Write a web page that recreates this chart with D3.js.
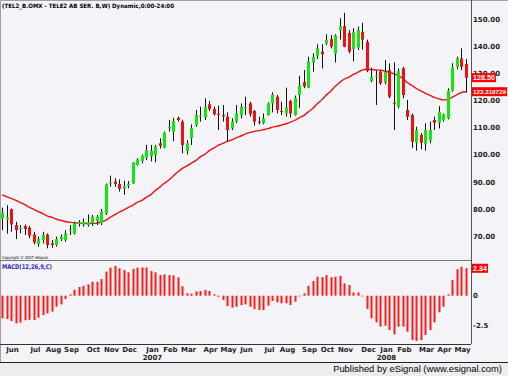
<!DOCTYPE html>
<html>
<head>
<meta charset="utf-8">
<script src="https://cdn.jsdelivr.net/npm/d3@7"></script>
<style>
  body { margin: 0; background: #f4f3f7; }
  svg { display: block; }
</style>
</head>
<body>
<div id="chart"></div>
<script>
// weekly bars, dated by the Friday of each week
const firstWeek = new Date(2006, 4, 19);
const lastWeek = new Date(2008, 4, 9);

const opens = [76.6, 76.2, 80.0, 74.2, 72.8, 73.8, 73.2, 70.7, 67.1, 68.7,
  70.7, 67.5, 66.8, 69.0, 68.7, 72.3, 71.1, 74.5, 74.4, 74.2,
  74.8, 75.7, 74.8, 78.5, 89.5, 90.2, 89.3, 87.7, 88.6, 89.5,
  96.3, 97.8, 99.0, 99.5, 100.0, 104.3, 102.7, 109.8, 108.6, 113.7,
  112.3, 101.5, 106.1, 111.0, 114.3, 113.8, 118.7, 116.9, 115.2, 114.8,
  114.1, 109.8, 112.3, 114.7, 117.3, 119.0, 116.2, 112.3, 111.7, 114.7,
  119.0, 121.5, 116.2, 115.3, 119.9, 114.7, 122.1, 126.8, 124.8, 134.1,
  136.6, 138.1, 141.1, 142.7, 137.3, 145.9, 147.5, 145.0, 139.1, 139.6,
  145.4, 141.7, 127.2, 129.0, 130.7, 126.8, 131.3, 119.3, 117.8, 131.9,
  116.6, 114.7, 104.5, 107.4, 104.0, 105.3, 112.9, 111.9, 112.9, 113.5,
  123.7, 132.5, 135.6, 133.5];
const highs = [80.6, 81.5, 80.3, 75.4, 74.2, 74.4, 73.8, 71.7, 69.9, 71.7,
  71.1, 68.7, 69.9, 70.7, 72.3, 74.2, 75.4, 76.0, 76.6, 78.1,
  77.9, 77.9, 80.1, 89.5, 92.4, 91.4, 91.0, 90.5, 90.4, 97.3,
  98.8, 100.2, 103.7, 103.7, 103.7, 106.1, 108.6, 112.9, 113.7, 114.1,
  113.0, 105.5, 111.3, 116.6, 117.8, 120.9, 119.9, 117.8, 118.2, 118.4,
  115.7, 113.5, 118.4, 119.0, 121.5, 119.6, 116.6, 114.1, 115.3, 119.4,
  123.1, 122.1, 119.6, 124.8, 120.3, 121.9, 129.2, 131.3, 136.2, 137.5,
  140.8, 140.8, 144.5, 144.2, 144.5, 150.4, 152.4, 146.0, 146.7, 147.3,
  148.7, 142.5, 132.2, 131.0, 131.3, 135.0, 133.8, 134.1, 131.9, 132.5,
  120.3, 115.3, 110.4, 108.0, 111.7, 112.3, 114.1, 118.0, 115.3, 124.6,
  133.8, 136.2, 139.3, 135.4];
const lows = [72.3, 71.0, 71.7, 69.0, 71.1, 70.5, 69.3, 67.1, 66.2, 67.4,
  65.6, 65.8, 66.2, 68.3, 68.0, 70.5, 70.7, 73.6, 73.6, 73.6,
  73.9, 74.2, 74.2, 77.9, 88.3, 88.3, 86.5, 85.3, 87.7, 89.4,
  96.1, 96.9, 98.1, 97.6, 97.3, 102.4, 102.5, 108.6, 105.1, 112.3,
  100.6, 100.2, 103.7, 110.4, 112.3, 112.9, 116.2, 114.5, 109.2, 112.3,
  104.9, 109.2, 111.7, 113.5, 114.7, 114.1, 110.8, 111.3, 111.3, 114.5,
  115.7, 115.3, 114.7, 114.1, 113.8, 114.5, 117.4, 124.6, 124.6, 130.7,
  135.4, 131.9, 140.5, 139.3, 134.1, 142.5, 139.7, 137.5, 134.5, 138.7,
  138.8, 130.5, 126.8, 118.4, 125.8, 126.0, 120.9, 109.2, 117.2, 120.9,
  112.9, 102.5, 101.6, 102.1, 101.6, 104.3, 109.2, 109.8, 112.3, 113.1,
  123.3, 131.6, 131.3, 123.0];
const closes = [78.7, 77.0, 74.4, 72.3, 73.1, 72.7, 70.3, 67.8, 69.0, 70.5,
  66.8, 66.9, 69.0, 69.9, 71.1, 72.7, 74.8, 75.2, 75.4, 75.2,
  77.3, 77.3, 79.1, 89.2, 89.9, 89.3, 87.5, 88.5, 89.4, 97.2,
  98.4, 99.7, 101.8, 101.5, 103.1, 103.4, 108.3, 110.3, 112.5, 112.9,
  103.7, 104.3, 110.0, 114.7, 114.5, 117.8, 116.9, 115.0, 114.8, 114.3,
  109.2, 112.3, 115.3, 117.8, 117.6, 115.0, 112.3, 112.0, 113.5, 119.0,
  122.3, 116.6, 115.9, 117.4, 115.3, 121.1, 125.8, 125.2, 134.4, 136.2,
  139.3, 137.1, 142.4, 139.9, 144.1, 147.4, 139.9, 138.1, 145.2, 146.1,
  142.5, 131.0, 128.8, 129.3, 126.4, 130.5, 121.5, 118.9, 130.9, 122.1,
  114.1, 104.9, 109.2, 104.5, 109.2, 109.2, 111.9, 115.9, 114.9, 123.7,
  132.3, 135.6, 132.5, 128.5];

// moving average (red line), read per bar
const movingAvg = [85.3, 84.6, 84.0, 83.3, 82.5, 81.7, 80.8, 80.0, 79.2, 78.4,
  77.6, 77.0, 76.4, 75.9, 75.5, 75.2, 75.0, 74.9, 74.8, 74.8,
  74.8, 74.9, 75.3, 76.0, 77.0, 78.0, 78.9, 79.8, 80.6, 81.5,
  82.5, 83.3, 84.3, 85.5, 86.8, 88.2, 89.5, 90.8, 92.2, 93.8,
  95.0, 96.0, 96.9, 98.0, 99.2, 100.3, 101.5, 102.6, 103.5, 104.3,
  105.0, 105.6, 106.3, 107.0, 107.7, 108.3, 108.7, 109.0, 109.3, 109.7,
  110.2, 110.6, 111.0, 111.5, 112.0, 112.8, 113.7, 114.6, 115.8, 117.2,
  118.8, 120.4, 122.0, 123.6, 125.2, 126.8, 127.9, 128.7, 129.6, 130.5,
  131.3, 131.6, 131.5, 131.3, 131.2, 130.9, 130.5, 129.9, 129.2, 128.1,
  126.8, 125.6, 124.6, 123.6, 122.8, 122.0, 121.3, 120.7, 120.3, 120.5,
  121.2, 122.2, 123.0, 123.319729];

// MACD(12,26,9) histogram
const macdHist = [-1.93, -1.99, -2.16, -2.36, -2.30, -2.10, -2.05, -2.07, -1.88, -1.65,
  -1.51, -1.36, -0.94, -0.74, -0.28, 0.11, 0.51, 0.74, 0.85, 0.97,
  1.19, 1.19, 1.42, 2.05, 2.39, 2.53, 2.33, 2.19, 1.99, 2.27,
  2.39, 2.41, 2.41, 2.10, 1.99, 1.76, 1.82, 1.76, 1.73, 1.56,
  0.80, 0.20, 0.17, 0.37, 0.40, 0.48, 0.40, 0.11, -0.09, -0.37,
  -0.88, -1.02, -0.94, -0.80, -0.74, -0.94, -1.14, -1.22, -1.22, -0.85,
  -0.45, -0.57, -0.65, -0.65, -0.80, -0.51, -0.06, 0.20, 0.85, 1.25,
  1.62, 1.59, 1.76, 1.59, 1.62, 1.68, 1.05, 0.91, 0.28, 0.28,
  -0.06, -1.14, -1.93, -2.27, -2.64, -2.56, -2.93, -3.30, -2.64, -2.64,
  -3.07, -3.78, -3.86, -3.78, -3.35, -2.93, -2.27, -1.42, -0.94, 0.11,
  1.34, 2.27, 2.47, 2.34];

const priceTicks = [70, 80, 90, 100, 110, 120, 130, 140, 150];
const macdTicks = [0, -2.5];

class WeeklyChart {
  constructor(parentId) {
    this.parentElement = document.getElementById(parentId);
    this.width = 508;
    this.height = 376;
    this.plotRight = 471;
    this.initVis();
  }

  initVis() {
    this.svg = d3.select(this.parentElement)
      .append("svg")
      .attr("width", this.width)
      .attr("height", this.height)
      .style("font-family", "DejaVu Sans, Verdana, sans-serif");

    this.dates = d3.timeFriday.range(firstWeek, d3.timeDay.offset(lastWeek, 1));
    this.bars = this.dates.map((d, i) => ({
      date: d, open: opens[i], high: highs[i], low: lows[i], close: closes[i],
      ma: movingAvg[i], macd: macdHist[i]
    }));

    this.x = d3.scaleBand().domain(this.dates).range([0, 468]);
    this.y = d3.scaleLinear().domain([70, 150]).range([236.4, 19.3]);
    this.yMacd = d3.scaleLinear().domain([-2.5, 0]).range([325, 295.7]);

    this.drawFrame();
    this.drawPrice();
    this.drawMacd();
    this.drawTimeAxis();
  }

  cx(d) {
    return Math.round(this.x(d) + this.x.bandwidth() / 2);
  }

  // red box with white value at the right edge
  valueBox(g, yPos, text) {
    const room = this.width - this.plotRight - 4;
    const box = g.append("g").attr("transform", `translate(${this.plotRight + 1}, ${yPos})`);
    const rect = box.append("rect").attr("x", 0).attr("y", -4.5).attr("height", 9).attr("fill", "#ff0000");
    const label = box.append("text")
      .attr("x", 1).attr("y", 2.6)
      .style("font-family", "Liberation Sans, Arial, sans-serif")
      .style("font-size", "7.2px").style("font-weight", "bold")
      .attr("fill", "#fff")
      .text(text);
    let len = label.node().getComputedTextLength();
    if (len > room) {
      // shrink long values so they stay inside the window
      label.style("font-size", (7.2 * room / len).toFixed(2) + "px");
      len = label.node().getComputedTextLength();
    }
    rect.attr("width", len + 2);
  }

  drawFrame() {
    const svg = this.svg;
    svg.append("rect").attr("width", this.width).attr("height", this.height).attr("fill", "#f4f3f7");
    svg.append("rect").attr("x", 0).attr("y", 362).attr("width", this.width).attr("height", 14).attr("fill", "#ededed");

    const lines = [
      [0.5, 0.5, this.width, 0.5, "#a0a0a0"],
      [0.5, 0.5, 0.5, 362, "#a0a0a0"],
      [this.plotRight + 0.5, 0, this.plotRight + 0.5, 344, "#555"],
      [0, 260.5, this.plotRight, 260.5, "#777"],
      [0, 344.5, this.plotRight, 344.5, "#333"],
      [0, 362.5, this.width, 362.5, "#222"]
    ];
    svg.selectAll(".frame-line")
      .data(lines)
      .join("line")
      .attr("class", "frame-line")
      .attr("x1", d => d[0]).attr("y1", d => d[1])
      .attr("x2", d => d[2]).attr("y2", d => d[3])
      .attr("stroke", d => d[4]);

    svg.append("text")
      .attr("x", 2).attr("y", 8)
      .style("font-size", "6px").style("font-weight", "bold")
      .attr("textLength", 172).attr("lengthAdjust", "spacingAndGlyphs")
      .text("(TEL2_B.OMX - TELE2 AB SER. B,W) Dynamic,0:00-24:00");

    svg.append("text")
      .attr("x", 2).attr("y", 258.5)
      .style("font-size", "4px")
      .attr("textLength", 47).attr("lengthAdjust", "spacingAndGlyphs")
      .text("Copyright © 2007 eSignal.");

    const credit = svg.append("text")
      .attr("x", 502).attr("y", 371.5)
      .attr("text-anchor", "end")
      .style("font-family", "Liberation Sans, Arial, sans-serif")
      .style("font-size", "11px")
      .text("Published by eSignal (www.esignal.com)");
    // fit the credit line to the width it has in the original
    const len = credit.node().getComputedTextLength();
    credit.style("font-size", (11 * 169 / len).toFixed(2) + "px");
  }

  drawPrice() {
    const g = this.svg.append("g");

    // right axis labels
    g.selectAll(".price-tick")
      .data(priceTicks)
      .join("text")
      .attr("class", "price-tick")
      .attr("x", 473)
      .attr("y", d => this.y(d) + 2.5)
      .style("font-size", "7px").style("font-weight", "bold")
      .attr("fill", "#222")
      .text(d => d.toFixed(2));

    const line = d3.line()
      .x(d => this.cx(d.date))
      .y(d => this.y(d.ma))
      .curve(d3.curveMonotoneX);

    g.append("path")
      .datum(this.bars)
      .attr("d", line)
      .attr("fill", "none")
      .attr("stroke", "#ee1111")
      .attr("stroke-width", 1.4);

    const candles = g.selectAll(".candle")
      .data(this.bars)
      .join("g")
      .attr("class", "candle");

    candles.append("line")
      .attr("x1", d => this.cx(d.date) + 0.5)
      .attr("x2", d => this.cx(d.date) + 0.5)
      .attr("y1", d => this.y(d.high))
      .attr("y2", d => this.y(d.low))
      .attr("stroke", "#111")
      .attr("stroke-width", 1);

    candles.append("rect")
      .attr("x", d => this.cx(d.date) - 1)
      .attr("width", 3)
      .attr("y", d => this.y(Math.max(d.open, d.close)))
      .attr("height", d => Math.max(1, Math.abs(this.y(d.open) - this.y(d.close))))
      .attr("fill", d => d.close >= d.open ? "#14e614" : "#ee1111");

    const last = this.bars[this.bars.length - 1];
    this.valueBox(g, this.y(last.close), last.close.toFixed(2));
    this.valueBox(g, this.y(last.ma), String(last.ma));
  }

  drawMacd() {
    const g = this.svg.append("g");
    const zero = this.yMacd(0);

    g.selectAll(".macd-bar")
      .data(this.bars)
      .join("rect")
      .attr("class", "macd-bar")
      .attr("x", d => this.cx(d.date) - 0.5)
      .attr("width", 2)
      .attr("y", d => Math.min(zero, this.yMacd(d.macd)))
      .attr("height", d => Math.abs(this.yMacd(d.macd) - zero))
      .attr("fill", "#ff1a1a");

    g.append("text")
      .attr("x", 2).attr("y", 269)
      .style("font-size", "6.5px").style("font-weight", "bold")
      .attr("textLength", 50).attr("lengthAdjust", "spacingAndGlyphs")
      .attr("fill", "#2a2ad8")
      .text("MACD(12,26,9,C)");

    g.selectAll(".macd-tick")
      .data(macdTicks)
      .join("text")
      .attr("class", "macd-tick")
      .attr("x", 473)
      .attr("y", d => this.yMacd(d) + 2.5)
      .style("font-size", "7px").style("font-weight", "bold")
      .attr("fill", "#222")
      .text(d => d === 0 ? "0" : d.toFixed(1));

    const last = this.bars[this.bars.length - 1];
    this.valueBox(g, this.yMacd(last.macd), last.macd.toFixed(2));
  }

  drawTimeAxis() {
    const fmtMonth = d3.timeFormat("%b");
    const months = this.dates.filter((d, i) => i > 0 && d.getMonth() !== this.dates[i - 1].getMonth());

    this.svg.selectAll(".month-label")
      .data(months)
      .join("text")
      .attr("class", "month-label")
      .attr("x", d => this.cx(d) + 1.5)
      .attr("y", 352)
      .attr("text-anchor", "middle")
      .style("font-size", "7px").style("font-weight", "bold")
      .attr("fill", "#222")
      .text(d => fmtMonth(d));

    this.svg.selectAll(".year-label")
      .data(months.filter(d => d.getMonth() === 0))
      .join("text")
      .attr("class", "year-label")
      .attr("x", d => this.cx(d) + 1.5)
      .attr("y", 360)
      .attr("text-anchor", "middle")
      .style("font-size", "7px").style("font-weight", "bold")
      .attr("fill", "#222")
      .text(d => d.getFullYear());
  }
}

new WeeklyChart("chart");
</script>
</body>
</html>
